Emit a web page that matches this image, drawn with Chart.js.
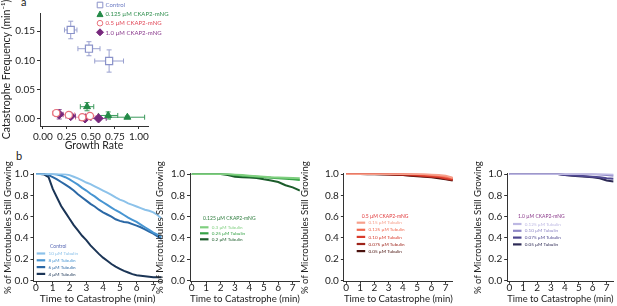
<!DOCTYPE html>
<html>
<head>
<meta charset="utf-8">
<script src="https://cdn.jsdelivr.net/npm/chart.js@4.4.1/dist/chart.umd.min.js"></script>
<style>
  body { margin: 0; background: #fff; width: 617px; height: 306px; overflow: hidden; position: relative; font-family: Lato, sans-serif; }
  canvas { position: absolute; }
  .panel { position: absolute; font-size: 11px; color: #222; }
</style>
</head>
<body>
<div class="panel" style="left:21px;top:-5px">a</div>
<div class="panel" style="left:16px;top:149px">b</div>
<canvas id="chartA" width="175" height="155" style="left:0;top:0"></canvas>
<canvas id="chartB1" width="166" height="156" style="left:0;top:150px"></canvas>
<canvas id="chartB2" width="152" height="156" style="left:152px;top:150px"></canvas>
<canvas id="chartB3" width="160" height="156" style="left:297px;top:150px"></canvas>
<canvas id="chartB4" width="147" height="156" style="left:470px;top:150px"></canvas>
<script>
// ---- panel a : catastrophe frequency vs growth rate ----
const groupNames = ["Control", "0.125 µM CKAP2-mNG", "0.5 µM CKAP2-mNG", "1.0 µM CKAP2-mNG"];
const controlRate = [0.29, 0.48, 0.69];
const controlFreq = [0.152, 0.120, 0.099];
const controlRateErr = [0.065, 0.115, 0.15];
const controlFreqErr = [0.015, 0.012, 0.019];
const ckap0125Rate = [0.46, 0.68, 0.88];
const ckap0125Freq = [0.021, 0.006, 0.003];
const ckap0125RateErr = [0.07, 0.10, 0.18];
const ckap0125FreqErr = [0.007, 0.006, 0.002];
const ckap05Rate = [0.14, 0.27, 0.41, 0.49];
const ckap05Freq = [0.010, 0.007, 0.003, 0.005];
const ckap05RateErr = [0.04, 0.06, 0.07, 0.08];
const ckap05FreqErr = [0.005, 0.004, 0.003, 0.003];
const ckap1Rate = [0.17, 0.29, 0.44, 0.58];
const ckap1Freq = [0.008, 0.005, 0.001, 0.001];
const ckap1RateErr = [0.04, 0.05, 0.06, 0.08];
const ckap1FreqErr = [0.008, 0.004, 0.003, 0.003];
const rateTicks = [0, 0.25, 0.5, 0.75, 1.0];
const freqTicks = [0, 0.05, 0.10, 0.15];

// ---- panel b : fraction of microtubules still growing ----
const timeFine = [0, 0.25, 0.5, 0.75, 1, 1.25, 1.5, 1.75, 2, 2.25, 2.5, 2.75, 3, 3.25, 3.5, 3.75, 4, 4.25, 4.5, 4.75, 5, 5.25, 5.5, 5.75, 6, 6.25, 6.5, 6.75, 7, 7.25, 7.5];
const timeCoarse = [0, 0.5, 1, 1.5, 2, 2.5, 3, 3.5, 4, 4.5, 5, 5.5, 6, 6.5, 7, 7.5];
const timeTicks = [0, 1, 2, 3, 4, 5, 6, 7];
const growingTicks = [0, 0.2, 0.4, 0.6, 0.8, 1.0];

const controlNames = ["10 µM Tubulin", "8 µM Tubulin", "6 µM Tubulin", "4 µM Tubulin"];
const tub10 = [1, 1, 1, 1, 1, 1, 1, 0.998, 0.99, 0.975, 0.96, 0.94, 0.92, 0.905, 0.885, 0.865, 0.845, 0.825, 0.805, 0.78, 0.76, 0.745, 0.725, 0.71, 0.695, 0.68, 0.665, 0.655, 0.64, 0.615, 0.58];
const tub8 = [1, 1, 1, 1, 1, 0.995, 0.985, 0.97, 0.95, 0.925, 0.90, 0.87, 0.845, 0.815, 0.79, 0.76, 0.735, 0.71, 0.685, 0.66, 0.64, 0.615, 0.59, 0.57, 0.55, 0.525, 0.50, 0.475, 0.45, 0.43, 0.41];
const tub6 = [1, 1, 1, 0.99, 0.97, 0.95, 0.925, 0.90, 0.875, 0.845, 0.81, 0.78, 0.75, 0.72, 0.695, 0.665, 0.64, 0.62, 0.60, 0.575, 0.56, 0.55, 0.545, 0.53, 0.515, 0.50, 0.48, 0.46, 0.44, 0.415, 0.39];
const tub4 = [1, 1, 0.995, 0.97, 0.86, 0.78, 0.70, 0.64, 0.58, 0.52, 0.47, 0.42, 0.38, 0.33, 0.29, 0.25, 0.215, 0.185, 0.155, 0.13, 0.11, 0.09, 0.075, 0.06, 0.05, 0.045, 0.04, 0.035, 0.03, 0.03, 0.03];

const greenNames = ["0.3 µM Tubulin", "0.25 µM Tubulin", "0.2 µM Tubulin"];
const green03 = [1, 1, 1, 1, 1, 1, 0.995, 0.99, 0.985, 0.98, 0.975, 0.97, 0.968, 0.965, 0.962, 0.96];
const green025 = [1, 1, 1, 1, 1, 1, 0.99, 0.985, 0.98, 0.975, 0.97, 0.965, 0.96, 0.955, 0.95, 0.945];
const green02 = [1, 1, 1, 1, 1, 0.99, 0.975, 0.97, 0.968, 0.962, 0.95, 0.94, 0.925, 0.895, 0.875, 0.845];

const redNames = ["0.15 µM Tubulin", "0.125 µM Tubulin", "0.10 µM Tubulin", "0.075 µM Tubulin", "0.05 µM Tubulin"];
const red015 = [1, 1, 1, 1, 1, 1, 1, 1, 1, 1, 1, 1, 0.995, 0.99, 0.985, 0.965];
const red0125 = [1, 1, 1, 1, 1, 1, 1, 1, 1, 1, 1, 0.995, 0.99, 0.985, 0.975, 0.96];
const red010 = [1, 1, 1, 1, 1, 1, 1, 1, 1, 0.995, 0.99, 0.985, 0.98, 0.975, 0.96, 0.95];
const red0075 = [1, 1, 1, 1, 1, 1, 0.995, 0.993, 0.99, 0.988, 0.985, 0.98, 0.975, 0.97, 0.955, 0.945];
const red005 = [1, 1, 1, 0.998, 0.997, 0.996, 0.995, 0.993, 0.99, 0.985, 0.98, 0.975, 0.97, 0.96, 0.95, 0.94];

const purpleNames = ["0.125 µM Tubulin", "0.10 µM Tubulin", "0.075 µM Tubulin", "0.05 µM Tubulin"];
const purple0125 = [1, 1, 1, 1, 1, 1, 1, 1, 1, 1, 1, 1, 1, 1, 1, 0.995];
const purple010 = [1, 1, 1, 1, 1, 1, 1, 1, 1, 1, 1, 1, 1, 0.995, 0.99, 0.985];
const purple0075 = [1, 1, 1, 1, 1, 1, 1, 1, 0.99, 0.988, 0.985, 0.98, 0.975, 0.97, 0.96, 0.955];
const purple005 = [1, 1, 1, 1, 1, 1, 1, 1, 0.99, 0.985, 0.98, 0.975, 0.97, 0.96, 0.94, 0.93];

const FONT = "Lato";
const AXIS = "#333";
const TEXT = "#222";

// error bars for the scatter panel
const errorBars = {
  id: "errorBars",
  beforeDatasetsDraw(chart) {
    const { ctx, scales: { x, y } } = chart;
    ctx.save();
    chart.data.datasets.forEach((ds, i) => {
      const meta = chart.getDatasetMeta(i);
      ctx.strokeStyle = ds.errColor;
      ctx.lineWidth = 1;
      ds.data.forEach((p, j) => {
        const px = meta.data[j].x, py = meta.data[j].y;
        const x0 = x.getPixelForValue(p.x - ds.xErr[j]), x1 = x.getPixelForValue(p.x + ds.xErr[j]);
        const y0 = y.getPixelForValue(p.y - ds.yErr[j]), y1 = y.getPixelForValue(p.y + ds.yErr[j]);
        const c = 2.5;
        ctx.beginPath();
        ctx.moveTo(x0, py); ctx.lineTo(x1, py);
        ctx.moveTo(x0, py - c); ctx.lineTo(x0, py + c);
        ctx.moveTo(x1, py - c); ctx.lineTo(x1, py + c);
        ctx.moveTo(px, y0); ctx.lineTo(px, y1);
        ctx.moveTo(px - c, y0); ctx.lineTo(px + c, y0);
        ctx.moveTo(px - c, y1); ctx.lineTo(px + c, y1);
        ctx.stroke();
      });
    });
    ctx.restore();
  }
};

// legend with point markers for panel a
const markerLegend = {
  id: "markerLegend",
  afterDraw(chart, args, opts) {
    const ctx = chart.ctx;
    ctx.save();
    ctx.font = opts.size + "px " + FONT;
    ctx.textBaseline = "middle";
    chart.data.datasets.forEach((ds, i) => {
      const cx = opts.x, cy = opts.y + i * opts.dy;
      ctx.lineWidth = 1;
      ctx.strokeStyle = ds.borderColor;
      ctx.fillStyle = ds.backgroundColor;
      ctx.beginPath();
      if (ds.pointStyle === "rect") ctx.rect(cx - 2.8, cy - 2.8, 5.6, 5.6);
      else if (ds.pointStyle === "triangle") { ctx.moveTo(cx, cy - 3); ctx.lineTo(cx + 3, cy + 2.5); ctx.lineTo(cx - 3, cy + 2.5); ctx.closePath(); }
      else if (ds.pointStyle === "circle") ctx.arc(cx, cy, 2.8, 0, Math.PI * 2);
      else { ctx.moveTo(cx, cy - 3.5); ctx.lineTo(cx + 3.5, cy); ctx.lineTo(cx, cy + 3.5); ctx.lineTo(cx - 3.5, cy); ctx.closePath(); }
      ctx.fill();
      ctx.stroke();
      ctx.fillStyle = ds.textColor;
      ctx.fillText(ds.label, opts.x + 5.5, cy + 0.3);
    });
    ctx.restore();
  }
};

// legend with short line markers for panel b
const curveLegend = {
  id: "curveLegend",
  afterDraw(chart, args, opts) {
    const ctx = chart.ctx;
    ctx.save();
    ctx.textBaseline = "middle";
    ctx.font = opts.titleSize + "px " + FONT;
    ctx.fillStyle = opts.titleColor;
    ctx.fillText(opts.title, opts.tx, opts.ty);
    ctx.font = opts.size + "px " + FONT;
    chart.data.datasets.forEach((ds, i) => {
      const yy = opts.my + i * opts.dy;
      ctx.strokeStyle = ds.borderColor;
      ctx.lineWidth = 2.2;
      ctx.beginPath();
      ctx.moveTo(opts.mx, yy); ctx.lineTo(opts.mx + 8.5, yy);
      ctx.stroke();
      ctx.fillStyle = ds.borderColor;
      ctx.fillText(ds.label, opts.mx + 11.8, yy + 0.2);
    });
    ctx.restore();
  }
};

function toPoints(xs, ys) {
  return xs.map((v, i) => ({ x: v, y: ys[i] }));
}

function axisStyle(titleText, titleSize, titlePad, tickLen, tickPad) {
  return {
    border: { display: true, color: AXIS, width: 1 },
    grid: { drawOnChartArea: false, drawTicks: true, tickLength: tickLen, color: AXIS },
    ticks: { font: { family: FONT, size: 10 }, color: TEXT, padding: tickPad, maxRotation: 0, autoSkip: false },
    title: { display: true, text: titleText, font: { family: FONT, size: titleSize }, color: TEXT, padding: titlePad }
  };
}

// panel a
new Chart(document.getElementById("chartA"), {
  type: "scatter",
  data: {
    datasets: [
      { label: groupNames[0], data: toPoints(controlRate, controlFreq), xErr: controlRateErr, yErr: controlFreqErr,
        pointStyle: "rect", pointRadius: 5, borderColor: "#8a92c9", backgroundColor: "#ffffff", borderWidth: 1.2,
        errColor: "#9aa1d0", textColor: "#6d7cc4" },
      { label: groupNames[1], data: toPoints(ckap0125Rate, ckap0125Freq), xErr: ckap0125RateErr, yErr: ckap0125FreqErr,
        pointStyle: "triangle", pointRadius: 4, borderColor: "#238a47", backgroundColor: "#238a47", borderWidth: 1,
        errColor: "#3c9a5c", textColor: "#2f8f4e" },
      { label: groupNames[2], data: toPoints(ckap05Rate, ckap05Freq), xErr: ckap05RateErr, yErr: ckap05FreqErr,
        pointStyle: "circle", pointRadius: 3.6, borderColor: "#e8707a", backgroundColor: "#ffffff", borderWidth: 1.2,
        errColor: "#ef9aa0", textColor: "#e24a5a" },
      { label: groupNames[3], data: toPoints(ckap1Rate, ckap1Freq), xErr: ckap1RateErr, yErr: ckap1FreqErr,
        pointStyle: "rectRot", pointRadius: 4.6, borderColor: "#77287c", backgroundColor: "#77287c", borderWidth: 1,
        errColor: "#8d4a92", textColor: "#8a3b8e" }
    ]
  },
  options: {
    responsive: false,
    animation: false,
    layout: { padding: { left: 0, top: 13, right: 27, bottom: 0 } },
    plugins: {
      legend: { display: false },
      tooltip: { enabled: false },
      markerLegend: { x: 100, y: 5, dy: 9.1, size: 6 }
    },
    scales: {
      x: Object.assign(axisStyle("Growth Rate", 10.5, { top: 0, bottom: 2.7 }, 3, 2), {
        type: "linear", min: -0.03, max: 1.095,
        afterBuildTicks: s => { s.ticks = rateTicks.map(v => ({ value: v })); },
        afterFit: s => { s.height = 29; }
      }),
      y: Object.assign(axisStyle("Catastrophe Frequency (min⁻¹)", 10.5, { top: 0, bottom: 0 }, 3, 2), {
        min: -0.012, max: 0.181,
        afterBuildTicks: s => { s.ticks = freqTicks.map(v => ({ value: v })); },
        afterFit: s => { s.width = 40; }
      })
    }
  },
  plugins: [errorBars, markerLegend]
});
Chart.getChart("chartA").options.scales.x.ticks.callback = v => v.toFixed(2);
Chart.getChart("chartA").options.scales.y.ticks.callback = v => v.toFixed(2);
Chart.getChart("chartA").update();

// panel b
function survivalChart(id, times, curves, names, colors, xMin, yAxisWidth, rightPad, legendOpts) {
  return new Chart(document.getElementById(id), {
    type: "line",
    data: {
      datasets: curves.map((c, i) => ({
        label: names[i],
        data: toPoints(times, c),
        borderColor: colors[i],
        borderWidth: 2,
        pointRadius: 0,
        tension: 0,
        fill: false
      }))
    },
    options: {
      responsive: false,
      animation: false,
      layout: { padding: { left: 0, top: 23.5, right: rightPad, bottom: 0 } },
      plugins: { legend: { display: false }, tooltip: { enabled: false }, curveLegend: legendOpts },
      scales: {
        x: Object.assign(axisStyle("Time to Catastrophe (min)", 10.2, { top: 0, bottom: 1.6 }, 2, -2), {
          type: "linear", min: xMin, max: 7.5,
          afterBuildTicks: s => { s.ticks = timeTicks.map(v => ({ value: v })); },
          afterFit: s => { s.height = 24.2; }
        }),
        y: Object.assign(axisStyle("% of Microtubules Still Growing", 9.6, { top: 2.2, bottom: 0 }, 3, 2), {
          min: -0.012, max: 1.005,
          afterBuildTicks: s => { s.ticks = growingTicks.map(v => ({ value: v })); },
          afterFit: s => { s.width = yAxisWidth; }
        })
      }
    },
    plugins: [curveLegend]
  });
}

const charts = [
  survivalChart("chartB1", timeFine, [tub10, tub8, tub6, tub4], controlNames,
    ["#8cc2ea", "#4795d2", "#2b68a5", "#1b3556"], -0.15, 33.5, 4.3,
    { title: "Control", titleColor: "#5868b4", titleSize: 5, tx: 50, ty: 96.5, mx: 36.7, my: 103.5, dy: 6.8, size: 4.6 }),
  survivalChart("chartB2", timeCoarse, [green03, green025, green02], greenNames,
    ["#7fcf7f", "#36a247", "#1c5c2b"], -0.12, 38, 4.1,
    { title: "0.125 µM CKAP2-mNG", titleColor: "#2a7a3a", titleSize: 5, tx: 51, ty: 68.3, mx: 48, my: 77.3, dy: 6, size: 4.6 }),
  survivalChart("chartB3", timeCoarse, [red015, red0125, red010, red0075, red005], redNames,
    ["#f7a08c", "#f2684f", "#d93b2b", "#9e2319", "#4a120e"], -0.15, 46.9, 4.2,
    { title: "0.5 µM CKAP2-mNG", titleColor: "#e0393b", titleSize: 5, tx: 64.7, ty: 66, mx: 59.7, my: 72.7, dy: 7.1, size: 4.6 }),
  survivalChart("chartB4", timeCoarse, [purple0125, purple010, purple0075, purple005], purpleNames,
    ["#bdb8e3", "#8f88c6", "#4f4890", "#2d2a55"], -0.15, 37.2, 3.4,
    { title: "1.0 µM CKAP2-mNG", titleColor: "#8b3a8b", titleSize: 5, tx: 48, ty: 66, mx: 43, my: 74, dy: 6.8, size: 4.6 })
];
charts.forEach(c => {
  c.options.scales.y.ticks.callback = v => v.toFixed(1);
  c.options.scales.x.ticks.callback = v => String(v);
  c.update();
});
</script>
</body>
</html>
